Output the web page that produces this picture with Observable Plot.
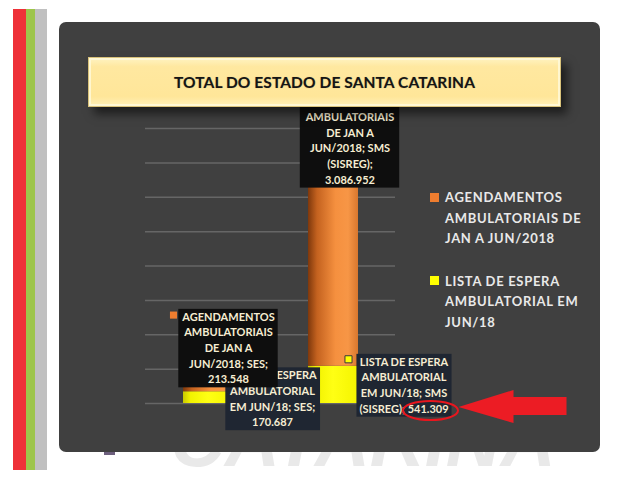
<!DOCTYPE html>
<html><head><meta charset="utf-8">
<script src="https://cdn.jsdelivr.net/npm/d3@7"></script>
<script src="https://cdn.jsdelivr.net/npm/@observablehq/plot@0.6"></script>
<style>
html,body{margin:0;padding:0;background:#fff;}
#root{position:relative;width:640px;height:495px;overflow:hidden;font-family:Lato,"Open Sans",sans-serif;}
.abs{position:absolute;}
#panel{left:59px;top:22px;width:541px;height:430px;background:#404040;border-radius:7px;z-index:1;}
#chart{left:0;top:0;z-index:2;}
#chart svg{overflow:visible;}
#title{left:88px;top:57px;width:473px;height:50px;z-index:3;box-sizing:border-box;
  background:linear-gradient(#fff3c2,#ffe8a0 18%,#ffe699 80%,#fff0b8);
  border:1px solid #d9c27a;box-shadow:inset 0 0 0 2px rgba(255,250,220,0.8),6px 7px 9px rgba(0,0,0,0.55);
  display:flex;align-items:center;justify-content:center;font-weight:700;font-size:15.5px;color:#151515;
  text-shadow:0 0 1px rgba(0,0,0,0.3);letter-spacing:0.1px;}
.leg{z-index:3;color:#e9e9e9;font-weight:700;font-size:13px;letter-spacing:0.7px;line-height:20.5px;width:160px;}
.key{z-index:3;width:9px;height:9px;}
</style></head><body><div id="root">
<div class="abs" style="left:13px;top:9px;width:13px;height:461px;background:#ee3138"></div>
<div class="abs" style="left:26px;top:9px;width:9px;height:461px;background:#9dc54b"></div>
<div class="abs" style="left:35px;top:9px;width:12px;height:461px;background:#c0c0c0"></div>
<svg class="abs" style="left:0;top:0;z-index:0" width="640" height="495"><text id="wm" x="170" y="466" font-family="Liberation Sans, Arial, sans-serif" font-weight="bold" font-style="italic" font-size="76" fill="#e9e9e9"></text></svg>
<div class="abs" style="left:104px;top:450px;width:11px;height:5px;background:#6d5f7d;z-index:0"></div>
<div id="panel" class="abs"></div>
<div id="chart" class="abs"></div>
<div id="title" class="abs"></div>
<div id="legend"></div>
</div>
<script>
// ---- data ----
const orgs = ["SES", "SMS (SISREG)"];
const seriesNames = ["LISTA DE ESPERA AMBULATORIAL EM JUN/18", "AGENDAMENTOS AMBULATORIAIS DE JAN A JUN/2018"];
const listaEspera = [170687, 541309];
const agendamentos = [213548, 3086952];
const gridTicks = [0, 500000, 1000000, 1500000, 2000000, 2500000, 3000000, 3500000, 4000000];
const titleText = "TOTAL DO ESTADO DE SANTA CATARINA";
const watermarkText = "CATARINA";
const seriesColors = ["#ffff00", "#ee7d2f"];

const fmt = d3.formatLocale({decimal: ",", thousands: ".", grouping: [3], currency: ["R$", ""]}).format(",d");

document.getElementById("title").textContent = titleText;
document.getElementById("wm").textContent = watermarkText;

// legend (orange first, then yellow)
const legendDiv = document.getElementById("legend");
[[1, 193, 187], [0, 276, 270.5]].forEach(([si, ky, ty]) => {
  const k = document.createElement("div");
  k.className = "abs key"; k.style.left = "430px"; k.style.top = ky + "px"; k.style.background = seriesColors[si];
  const t = document.createElement("div");
  t.className = "abs leg"; t.style.left = "445px"; t.style.top = ty + "px"; t.textContent = seriesNames[si];
  legendDiv.appendChild(k); legendDiv.appendChild(t);
});

const rows = [];
orgs.forEach((o, i) => {
  rows.push({org: o, series: seriesNames[0], value: listaEspera[i]});
  rows.push({org: o, series: seriesNames[1], value: agendamentos[i]});
});

const labels = [
  {id: "lab-ses-lista", org: orgs[0], y: listaEspera[0], bg: "#1f2632",
   text: `LISTA DE ESPERA\nAMBULATORIAL\nEM JUN/18; SES;\n${fmt(listaEspera[0])}`, dx: 64, dy: 6},
  {id: "lab-ses-agend", org: orgs[0], y: listaEspera[0] + agendamentos[0], bg: "#0e0e0e",
   text: `AGENDAMENTOS\nAMBULATORIAIS\nDE JAN A\nJUN/2018; SES;\n${fmt(agendamentos[0])}`, dx: 20, dy: -30},
  {id: "lab-sms-agend", org: orgs[1], y: listaEspera[1] + agendamentos[1], bg: "#0e0e0e",
   text: `AGENDAMENTOS\nAMBULATORIAIS\nDE JAN A\nJUN/2018; SMS\n(SISREG);\n${fmt(agendamentos[1])}`, dx: 16.5, dy: -14.5},
  {id: "lab-sms-lista", org: orgs[1], y: listaEspera[1], bg: "#1f2632",
   text: `LISTA DE ESPERA\nAMBULATORIAL\nEM JUN/18; SMS\n(SISREG); ${fmt(listaEspera[1])}`, dx: 70.5, dy: 18}
];

const textMark = (l) => Plot.text([l], {x: "org", y: "y", text: "text", dx: l.dx, dy: l.dy, ariaDescription: l.id,
  fill: "#f6edd2", fontSize: 11, fontWeight: "bold", fontFamily: "Lato", lineHeight: 1.42, textAnchor: "middle"});

const plot = Plot.plot({
  width: 640, height: 495,
  marginLeft: 145, marginRight: 245, marginTop: 128, marginBottom: 92,
  style: {background: "transparent", overflow: "visible"},
  x: {domain: orgs, paddingInner: 0.6, paddingOuter: 0.3, axis: null},
  y: {domain: [0, 4000000], axis: null},
  color: {domain: seriesNames, range: ["url(#gY)", "url(#gO)"]},
  marks: [
    Plot.ruleY(gridTicks, {stroke: "#666666", strokeWidth: 1.5}),
    Plot.barY(rows, {x: "org", y: "value", fill: "series"}),
    textMark(labels[0]),
    textMark(labels[1]),
    Plot.dot([labels[1]], {x: "org", y: "y", dx: -35, dy: -62, symbol: "square", r: 4, fill: seriesColors[1]}),
    textMark(labels[2]),
    textMark(labels[3]),
    Plot.dot([labels[3]], {x: "org", y: "y", dx: 15, dy: -7, symbol: "square", r: 4, fill: seriesColors[0], stroke: "#3a3a3a", strokeWidth: 1})
  ]
});
document.getElementById("chart").appendChild(plot);

const svg = d3.select(plot);
const defs = svg.insert("defs", ":first-child");
const gO = defs.append("linearGradient").attr("id", "gO").attr("x1", 0).attr("x2", 1).attr("y1", 0).attr("y2", 0);
[[0, "#7e380c"], [0.18, "#c4621f"], [0.55, "#f5903f"], [0.8, "#f79646"], [1, "#d9772e"]].forEach(([o, c]) => gO.append("stop").attr("offset", o).attr("stop-color", c));
const gY = defs.append("linearGradient").attr("id", "gY").attr("x1", 0).attr("x2", 1).attr("y1", 0).attr("y2", 0);
[[0, "#c9c900"], [0.15, "#f2f200"], [0.5, "#ffff14"], [1, "#f4f400"]].forEach(([o, c]) => gY.append("stop").attr("offset", o).attr("stop-color", c));

// label boxes: locate each label group by its description, else by text content
const allTextGroups = svg.selectAll("g").nodes().filter(g => g.querySelector(":scope > text"));
labels.forEach(l => {
  let gnode = plot.querySelector(`g[aria-description="${l.id}"]`);
  if (!gnode || !gnode.querySelector("text")) {
    const lastLine = l.text.split("\n").pop();
    gnode = allTextGroups.find(g => g.textContent.includes(lastLine));
  }
  if (!gnode) return;
  const t = gnode.querySelector("text");
  const b = t.getBBox();
  let tx = 0, ty = 0;
  const tr = t.getAttribute("transform");
  if (tr) { const m = tr.match(/translate\(([-\d.]+)[,\s]+([-\d.]+)\)/); if (m) { tx = +m[1]; ty = +m[2]; } }
  const r = document.createElementNS("http://www.w3.org/2000/svg", "rect");
  r.setAttribute("x", b.x + tx - 3); r.setAttribute("y", b.y + ty - 1);
  r.setAttribute("width", b.width + 6); r.setAttribute("height", b.height + 3);
  r.setAttribute("fill", l.bg);
  gnode.insertBefore(r, t);
});

// annotation: red ellipse + arrow relative to SMS waiting-list value
const xs = plot.scale("x"), ys = plot.scale("y");
const ax = xs.apply(orgs[1]) + xs.bandwidth / 2, ay = ys.apply(listaEspera[1]);
const ann = svg.append("g");
ann.append("ellipse").attr("cx", ax + 97.5).attr("cy", ay + 44.7).attr("rx", 27.5).attr("ry", 9.5)
  .attr("fill", "none").attr("stroke", "#e8161e").attr("stroke-width", 2);
const tx = ax + 125.5, ty = ay + 41.2;
ann.append("polygon").attr("fill", "#ec1c24").attr("points",
  [[tx, ty], [tx + 55, ty - 17], [tx + 55, ty - 10], [tx + 108, ty - 10], [tx + 108, ty + 8], [tx + 55, ty + 8], [tx + 55, ty + 16]].map(p => p.join(",")).join(" "));
</script>
</body></html>
